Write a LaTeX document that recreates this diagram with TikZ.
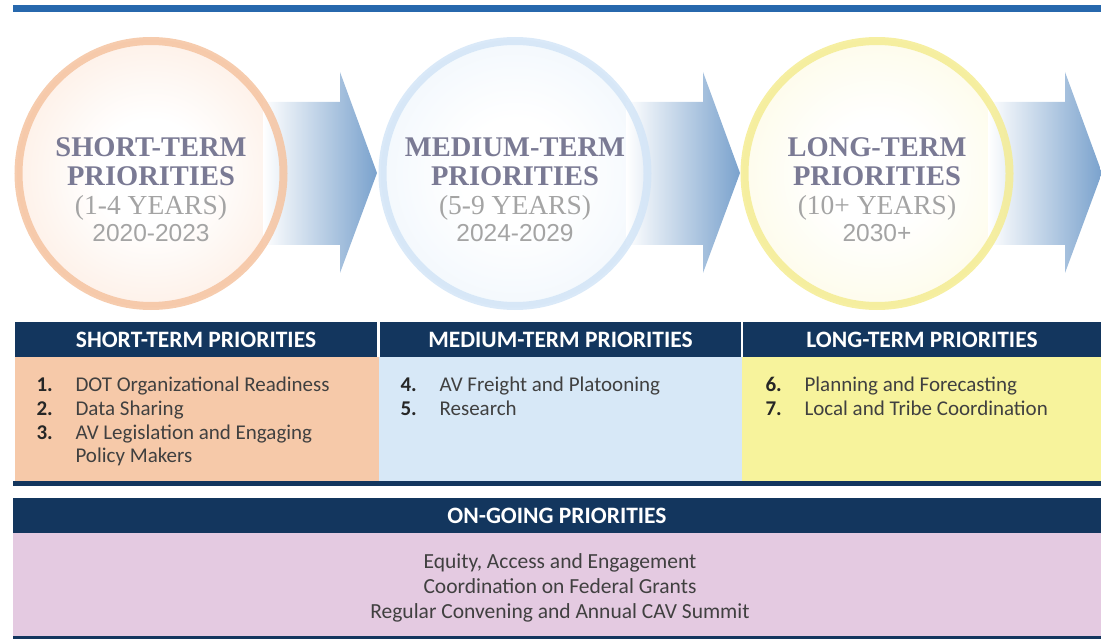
\documentclass[tikz,border=0pt]{standalone}
\usepackage{fontspec}
\setmainfont{Liberation Serif}
\newfontfamily\boxfont{Carlito}
\newfontfamily\yearfont{Liberation Sans}

\definecolor{topblue}{HTML}{2768AD}
\definecolor{navy}{HTML}{13365E}
\definecolor{arrowblue}{HTML}{7AA2CD}
\definecolor{titlegrey}{HTML}{7A7A94}
\definecolor{yeargrey}{HTML}{A4A4A4}
\definecolor{itemgrey}{HTML}{404040}
\definecolor{peachring}{HTML}{F5C3A0}
\definecolor{peachcore}{HTML}{FBDAC4}
\definecolor{bluering}{HTML}{D3E5F7}
\definecolor{bluecore}{HTML}{E0EDFA}
\definecolor{yellowring}{HTML}{F4EC92}
\definecolor{yellowcore}{HTML}{FBF7CC}
\definecolor{peachfill}{HTML}{F6C9A9}
\definecolor{bluefill}{HTML}{D7E8F7}
\definecolor{yellowfill}{HTML}{F7F39C}
\definecolor{pinkfill}{HTML}{E4CAE1}

\pgfdeclareradialshading{glowpeach}{\pgfpoint{0bp}{0bp}}{color(0bp)=(white); color(10bp)=(white); color(50bp)=(peachcore)}
\pgfdeclareradialshading{glowblue}{\pgfpoint{0bp}{0bp}}{color(0bp)=(white); color(10bp)=(white); color(50bp)=(bluecore)}
\pgfdeclareradialshading{glowyellow}{\pgfpoint{0bp}{0bp}}{color(0bp)=(white); color(10bp)=(white); color(50bp)=(yellowcore)}

\tikzset{
  ring/.style={line width=8pt, opacity=0.85},
  bigtitle/.style={anchor=base, text=titlegrey, font=\bfseries\fontsize{28.5}{28.5}\selectfont},
  rangetext/.style={anchor=base, text=yeargrey, font=\fontsize{27.5}{27.5}\selectfont},
  yeartext/.style={anchor=base, text=yeargrey, font=\yearfont\fontsize{24.5}{24.5}\selectfont},
  headbar/.style={fill=navy, text=white, inner sep=0pt, minimum height=35pt,
    font=\boxfont\bfseries\fontsize{23.5}{23.5}\selectfont},
  num/.style={anchor=base west, text=black!85, font=\boxfont\bfseries\fontsize{21}{21}\selectfont},
  item/.style={anchor=base west, text=itemgrey, font=\boxfont\fontsize{21}{21}\selectfont},
  ongoing/.style={anchor=base, text=itemgrey, font=\boxfont\fontsize{21.5}{21.5}\selectfont}
}

\begin{document}
\begin{tikzpicture}[x=1pt,y=-1pt]
\useasboundingbox (0,0) rectangle (1101,639);

% top rule
\fill[topblue] (13,5) rectangle (1101,12);

% circle cores
\foreach \cx/\glow in {151/glowpeach,515/glowblue,877/glowyellow}{
  \shade[shading=\glow] (\cx,173.5) circle (134pt);
}

% arrows
\foreach \dx in {0,363,725}{
  \shade[left color=white, right color=arrowblue, xshift=\dx pt]
    (263,102) -- (340,102) -- (340,72) -- (377,173) -- (340,273)
    -- (340,245) -- (263,245) -- cycle;
}

% rings and titles
\foreach \cx/\ringc/\term/\range/\years in
  {151/peachring/SHORT-TERM/(1-4 YEARS)/2020-2023,
   515/bluering/MEDIUM-TERM/(5-9 YEARS)/2024-2029,
   877/yellowring/LONG-TERM/(10+ YEARS)/2030+}{
  \draw[ring, draw=\ringc] (\cx,173.5) circle (132.5pt);
  \node[bigtitle] (term\cx) at (\cx,157) {\term};
  \node[bigtitle] (prio\cx) at (\cx,186) {PRIORITIES};
  \node[rangetext] (range\cx) at (\cx,215) {\range};
  \node[yeartext] (years\cx) at (\cx,242) {\years};
}

% priority columns
\node[headbar, minimum width=362pt] (hshort) at (196,339.5) {SHORT-TERM PRIORITIES};
\node[headbar, minimum width=361pt] (hmedium) at (560.5,339.5) {MEDIUM-TERM PRIORITIES};
\node[headbar, minimum width=358pt] (hlong) at (922,339.5) {LONG-TERM PRIORITIES};

\fill[peachfill] (15,357) rectangle (379,481);
\fill[bluefill] (379,357) rectangle (742,481);
\fill[yellowfill] (742,357) rectangle (1101,481);
\fill[navy] (13,481) rectangle (1101,486);

\node[num] (n1) at (33,391) {1.};
\node[item] (i1) at (72,391) {DOT Organizational Readiness};
\node[num] (n2) at (33,415) {2.};
\node[item] (i2) at (72,415) {Data Sharing};
\node[num] (n3) at (33,439) {3.};
\node[item] (i3) at (72,439) {AV Legislation and Engaging};
\node[item] (i3b) at (72,462) {Policy Makers};

\node[num] (n4) at (397,391) {4.};
\node[item] (i4) at (436,391) {AV Freight and Platooning};
\node[num] (n5) at (397,415) {5.};
\node[item] (i5) at (436,415) {Research};

\node[num] (n6) at (762,391) {6.};
\node[item] (i6) at (801,391) {Planning and Forecasting};
\node[num] (n7) at (762,415) {7.};
\node[item] (i7) at (801,415) {Local and Tribe Coordination};

% on-going priorities
\node[headbar, minimum width=1088pt] (hongoing) at (557,515.5) {ON-GOING PRIORITIES};
\fill[pinkfill] (13,533) rectangle (1101,636);
\fill[navy] (13,636) rectangle (1101,639);
\node[ongoing] (o1) at (560,568) {Equity, Access and Engagement};
\node[ongoing] (o2) at (560,593) {Coordination on Federal Grants};
\node[ongoing] (o3) at (560,618) {Regular Convening and Annual CAV Summit};
\end{tikzpicture}
\end{document}
